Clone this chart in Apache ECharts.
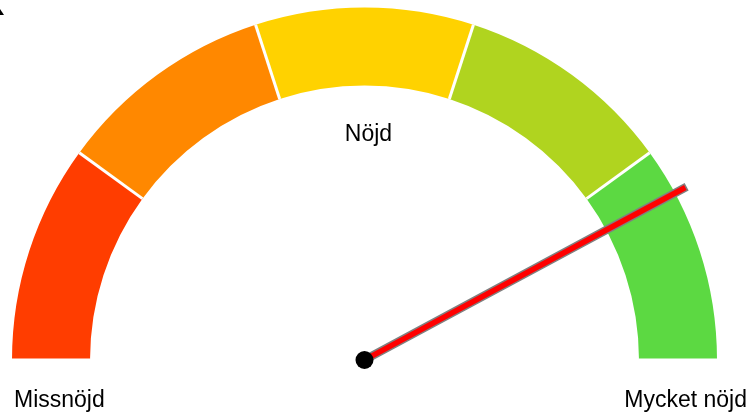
<!DOCTYPE html>
<html>
<head>
<meta charset="utf-8">
<script src="https://cdn.jsdelivr.net/npm/echarts@6/dist/echarts.min.js"></script>
<style>
html,body{margin:0;padding:0;background:#fff;}
#chart{width:753px;height:417px;}
</style>
</head>
<body>
<div id="chart"></div>
<script>
// Data
var segmentEnds = [0.2, 0.4, 0.6, 0.8, 1.0];
var segmentColors = ['#ff3d00', '#ff8800', '#ffd200', '#b0d41f', '#5cd942'];
var gaugeMin = 0;
var gaugeMax = 100;
var needleValue = [84.3];
var labelTexts = ['Missnöjd', 'Nöjd', 'Mycket nöjd'];

var chart = echarts.init(document.getElementById('chart'), null, {renderer: 'canvas'});
var font = '"Liberation Sans", Arial, sans-serif';

var option = {
  backgroundColor: '#ffffff',
  animation: false,
  series: [{
    type: 'gauge',
    center: [364.5, 360],
    radius: 352.5,
    startAngle: 180,
    endAngle: 0,
    min: gaugeMin,
    max: gaugeMax,
    splitNumber: 5,
    axisLine: {
      roundCap: false,
      lineStyle: {
        width: 78,
        color: segmentEnds.map(function (e, i) { return [e, segmentColors[i]]; })
      }
    },
    splitLine: {
      show: true,
      length: 78,
      distance: -78,
      lineStyle: { color: '#ffffff', width: 3 }
    },
    axisTick: { show: false },
    axisLabel: { show: false },
    pointer: {
      show: true,
      icon: 'rect',
      length: 365,
      width: 7,
      offsetCenter: [0, 0],
      itemStyle: {
        color: '#ff0000',
        borderColor: '#808080',
        borderWidth: 1.5
      }
    },
    anchor: {
      show: true,
      showAbove: true,
      size: 18,
      itemStyle: { color: '#000000', borderWidth: 0 }
    },
    title: { show: false },
    detail: { show: false },
    data: needleValue.map(function (v) { return { value: v }; })
  }],
  graphic: [
    {
      type: 'text', x: 14, y: 401,
      style: { text: labelTexts[0], font: '23px ' + font, fill: '#000', textAlign: 'left', textVerticalAlign: 'middle' }
    },
    {
      type: 'text', x: 368.5, y: 135,
      style: { text: labelTexts[1], font: '23px ' + font, fill: '#000', textAlign: 'center', textVerticalAlign: 'middle' }
    },
    {
      type: 'text', x: 747, y: 401,
      style: { text: labelTexts[2], font: '23px ' + font, fill: '#000', textAlign: 'right', textVerticalAlign: 'middle' }
    },
    {
      type: 'polygon',
      shape: { points: [[0, 9], [0, 15], [4, 15]] },
      style: { fill: '#000' }
    }
  ]
};
chart.setOption(option);
</script>
</body>
</html>
